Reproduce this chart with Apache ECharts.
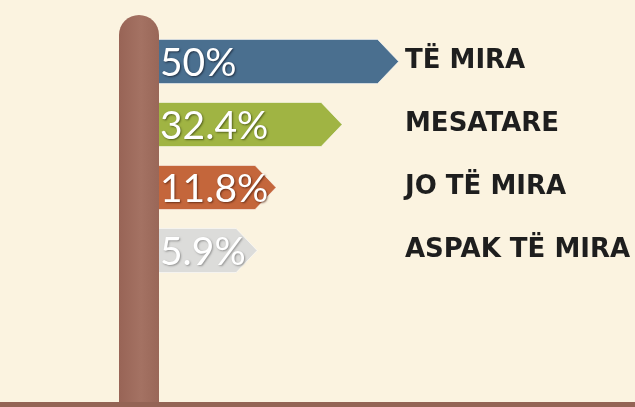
<!DOCTYPE html>
<html>
<head>
<meta charset="utf-8">
<script src="https://cdn.jsdelivr.net/npm/echarts@6/dist/echarts.min.js"></script>
<style>
  html, body { margin: 0; padding: 0; background: #FBF3E0; }
  #chart { width: 635px; height: 407px; }
</style>
</head>
<body>
<div id="chart"></div>
<script>
// Ratings shown as pennants hanging off a signpost
var categories = ['TË MIRA', 'MESATARE', 'JO TË MIRA', 'ASPAK TË MIRA'];
var shares = [50, 32.4, 11.8, 5.9];
var valueLabels = ['50%', '32.4%', '11.8%', '5.9%'];
var colors = ['#4A6F8F', '#A0B443', '#C4663B', '#DCDCDA'];
var shadowColors = ['rgba(20,30,45,0.75)', 'rgba(50,60,10,0.7)', 'rgba(70,25,10,0.7)', 'rgba(90,90,90,0.55)'];

// pennants start at the axis minimum (the post's edge)
var AXIS_MIN = -25;
var AXIS_MAX = 52;

var chart = echarts.init(document.getElementById('chart'));

function renderPennant(params, api) {
  var idx = params.dataIndex;
  var value = api.value(0);
  var cat = api.value(1);
  var start = api.coord([AXIS_MIN, cat]);
  var tip = api.coord([value, cat]);
  var band = api.size([0, 1])[1];
  var h = band * 0.70;
  var tipLen = 21;
  var cy = tip[1];
  var x0 = start[0] - 4;
  var bodyEnd = tip[0] - tipLen;
  return {
    type: 'group',
    children: [{
      type: 'polygon',
      shape: {
        points: [
          [x0, cy - h / 2],
          [bodyEnd, cy - h / 2],
          [tip[0], cy],
          [bodyEnd, cy + h / 2],
          [x0, cy + h / 2]
        ]
      },
      style: {
        fill: colors[idx],
        stroke: 'rgba(255,255,255,0.55)',
        lineWidth: 1
      }
    }, {
      type: 'text',
      x: start[0] + 2,
      y: cy + 2,
      style: {
        text: valueLabels[idx],
        fill: '#FFFFFF',
        font: '39px Lato',
        textVerticalAlign: 'middle',
        textAlign: 'left',
        textShadowColor: shadowColors[idx],
        textShadowBlur: 2,
        textShadowOffsetX: 1,
        textShadowOffsetY: 1
      }
    }]
  };
}

var option = {
  backgroundColor: '#FBF3E0',
  animation: false,
  grid: { left: 158, right: 230, top: 30, height: 252 },
  xAxis: {
    type: 'value',
    min: AXIS_MIN,
    max: AXIS_MAX,
    show: false
  },
  yAxis: {
    type: 'category',
    data: categories,
    inverse: true,
    position: 'right',
    axisLine: { show: false },
    axisTick: { show: false },
    splitLine: { show: false },
    axisLabel: {
      margin: 0,
      align: 'left',
      padding: [5, 0, 0, 0],
      color: '#1E1E1E',
      fontFamily: 'DejaVu Sans',
      fontWeight: 'bold',
      fontSize: 26
    }
  },
  series: [{
    type: 'custom',
    renderItem: renderPennant,
    encode: { x: 0, y: 1 },
    data: shares.map(function (v, i) { return [v, i]; }),
    z: 2
  }],
  graphic: [
    {
      // signpost
      type: 'rect',
      z: 10,
      shape: { x: 119, y: 15, width: 40, height: 392, r: [20, 20, 0, 0] },
      style: {
        fill: {
          type: 'linear', x: 0, y: 0, x2: 1, y2: 0,
          colorStops: [
            { offset: 0, color: '#986456' },
            { offset: 0.55, color: '#A47263' },
            { offset: 1, color: '#996758' }
          ]
        }
      }
    },
    {
      // ground line
      type: 'rect',
      z: 11,
      shape: { x: 0, y: 402, width: 635, height: 5 },
      style: { fill: '#946455' }
    }
  ]
};

chart.setOption(option);
</script>
</body>
</html>
